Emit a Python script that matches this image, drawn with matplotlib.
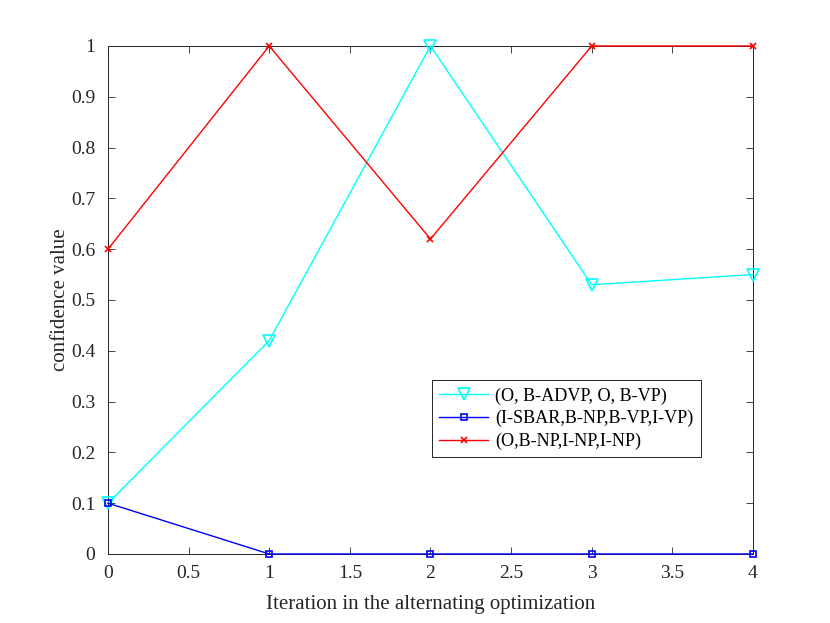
import matplotlib
matplotlib.use("Agg")
import matplotlib.pyplot as plt

iterations = [0, 1, 2, 3, 4]
cyan_vals = [0.1, 0.42, 1.0, 0.53, 0.55]
blue_vals = [0.1, 0.0, 0.0, 0.0, 0.0]
red_vals = [0.6, 1.0, 0.62, 1.0, 1.0]
labels = ["(O, B-ADVP, O, B-VP)", "(I-SBAR,B-NP,B-VP,I-VP)", "(O,B-NP,I-NP,I-NP)"]
xticks = [0, 0.5, 1, 1.5, 2, 2.5, 3, 3.5, 4]
yticks = [0, 0.1, 0.2, 0.3, 0.4, 0.5, 0.6, 0.7, 0.8, 0.9, 1]

plt.rcParams['font.family'] = ['Liberation Serif', 'DejaVu Serif']

fig = plt.figure(figsize=(8.3, 6.23), dpi=100)
ax = fig.add_axes([0.1301, 0.1108, 0.7771, 0.8154])

ax.plot(iterations, cyan_vals, color='cyan', lw=1, marker='v', ms=8,
        mfc='none', mew=1.2, label=labels[0], clip_on=False, zorder=3)
ax.plot(iterations, blue_vals, color='blue', lw=1, marker='s', ms=5,
        mfc='none', mew=1.2, label=labels[1], clip_on=False, zorder=3)
ax.plot(iterations, red_vals, color='red', lw=1, marker='x', ms=5,
        mew=1.2, label=labels[2], clip_on=False, zorder=3)

ax.set_xlim(0, 4)
ax.set_ylim(0, 1)
ax.set_xticks(xticks)
ax.set_xticklabels([f"{t:g}" for t in xticks])
ax.set_yticks(yticks)
ax.set_yticklabels([f"{t:g}" for t in yticks])
ax.tick_params(direction='in', top=True, right=True, labelsize=14,
               length=5, width=0.6, color='#262626', labelcolor='#262626')
ax.tick_params(axis='x', pad=8)
ax.tick_params(axis='y', pad=9)
for s in ax.spines.values():
    s.set_linewidth(0.7)
    s.set_color('#262626')

ax.set_xlabel("Iteration in the alternating optimization", fontsize=15,
              color='#262626', labelpad=9)
ax.set_ylabel("confidence value", fontsize=15, color='#262626', labelpad=1)

leg = ax.legend(loc='upper left', bbox_to_anchor=(0.502, 0.3425), borderaxespad=0,
                fontsize=13.1, fancybox=False, framealpha=1, edgecolor='#262626',
                handlelength=2.7, labelspacing=0.3, borderpad=0.4, handletextpad=0.4)
leg.get_frame().set_linewidth(0.7)

fig.savefig("out.png", dpi=100)
